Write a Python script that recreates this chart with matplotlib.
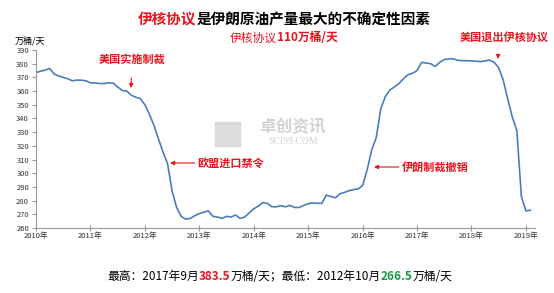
import matplotlib
matplotlib.use("Agg")
import matplotlib.pyplot as plt
import numpy as np
from matplotlib.offsetbox import TextArea, HPacker, AnnotationBbox

plt.rcParams['font.family'] = ['Noto Sans CJK SC', 'DejaVu Sans']

# monthly output, Jan 2010 .. Feb 2019 (万桶/天)
production = [
    373.5, 374.5, 375.3, 376.5, 372.5, 371.0, 370.0, 369.0, 367.5, 368.0, 368.0, 367.5,  # 2010
    366.0, 366.0, 365.5, 365.5, 366.0, 365.8, 363.0, 360.5, 360.0, 357.0, 355.5, 354.5,  # 2011
    350.0, 343.0, 335.0, 325.0, 315.5, 307.0, 287.0, 275.0, 268.5, 266.5, 267.0, 269.0,  # 2012
    270.5, 271.5, 272.5, 268.5, 268.0, 267.0, 268.5, 268.0, 269.5, 267.0, 268.0, 271.0,  # 2013
    274.0, 276.0, 278.5, 278.0, 275.5, 275.5, 276.3, 275.5, 276.5, 275.0, 275.0, 276.5,  # 2014
    277.8, 278.3, 278.0, 278.0, 284.0, 283.0, 282.0, 285.0, 286.0, 287.3, 288.0, 288.5,  # 2015
    291.0, 302.5, 317.0, 326.0, 347.0, 356.0, 360.8, 363.0, 365.5, 369.0, 372.0, 373.0,  # 2016
    375.0, 381.0, 380.5, 380.0, 378.0, 381.0, 383.0, 383.5, 383.5, 382.5, 382.2, 382.2,  # 2017
    382.0, 381.8, 381.5, 382.0, 382.7, 381.0, 377.0, 368.0, 354.0, 341.0, 331.0, 283.0,  # 2018
    272.5, 273.0,                                                                        # 2019
]
years = [2010, 2011, 2012, 2013, 2014, 2015, 2016, 2017, 2018, 2019]
year_labels = [f"{y}年" for y in years]
y_ticks = list(range(260, 391, 10))

fig = plt.figure(figsize=(5.54, 2.93), dpi=100)
ax = fig.add_axes([36 / 554, 65 / 293, 499 / 554, 178 / 293])

months = np.arange(len(production))
ax.plot(months, production, color='#4a7ebb', lw=1.2)

ax.set_xlim(0, 110)
ax.set_ylim(260, 390)
ax.set_xticks([(y - 2010) * 12 for y in years])
ax.set_xticklabels(year_labels, fontsize=5.5, color='#333333')
ax.set_yticks(y_ticks)
ax.set_yticklabels([str(v) for v in y_ticks], fontsize=5.5, color='#333333')
for s in ['top', 'right']:
    ax.spines[s].set_visible(False)
for s in ['left', 'bottom']:
    ax.spines[s].set_color('#999999')
    ax.spines[s].set_linewidth(0.8)
ax.tick_params(axis='x', direction='inout', length=4, color='#999999', width=0.8, pad=1)
ax.tick_params(axis='y', direction='out', length=3, color='#999999', width=0.8, pad=2)

red = '#e8141e'


def colored_line(parts, x, y, size, weight='normal'):
    boxes = [TextArea(t, textprops=dict(color=c, fontsize=size,
                                        fontweight=w if w else weight))
             for t, c, w in parts]
    pack = HPacker(children=boxes, align='baseline', pad=0, sep=0)
    ab = AnnotationBbox(pack, (x / 554, 1 - y / 293), xycoords='figure fraction',
                        frameon=False, box_alignment=(0.5, 0.5))
    fig.add_artist(ab)


colored_line([("伊核协议", red, None), ("是伊朗原油产量最大的不确定性因素", 'black', None)],
             284, 19, 10.5, 'bold')
colored_line([("伊核协议", red, 'normal'), ("110万桶/天", red, 'bold')], 284, 38, 8.5)
colored_line([("最高：2017年9月", 'black', None), ("383.5", red, 'bold'),
              ("万桶/天；最低：2012年10月", 'black', None), ("266.5", '#1a9a4a', 'bold'),
              ("万桶/天", 'black', None)], 280, 276, 8.5)

fig.text(30 / 554, 1 - 41 / 293, "万桶/天", fontsize=6.5, ha='center', va='center')

# watermark
fig.text(292 / 554, 1 - 127 / 293, "卓创资讯", fontsize=12, color='#c8c8c8',
         ha='center', va='center', fontweight='bold', alpha=0.8)
fig.text(293 / 554, 1 - 142 / 293, "SCI99.COM", fontsize=7, color='#c8c8c8',
         ha='center', va='center', family='Liberation Serif', alpha=0.8)
fig.patches.append(plt.Rectangle((215 / 554, 1 - 146 / 293), 25 / 554, 24 / 293,
                                 transform=fig.transFigure, color='#d4d4d4', alpha=0.8))

# annotations
def fig_xy(x, y):
    return (x / 554, 1 - y / 293)


ann = dict(color=red, fontsize=8, fontweight='bold', xycoords='figure fraction',
           textcoords='figure fraction', va='center', ha='center')
arrow = dict(arrowstyle='-|>', color=red, lw=0.8, mutation_scale=6)

ax.annotate("美国实施制裁", xy=fig_xy(131, 88), xytext=fig_xy(132, 59),
            arrowprops=dict(arrow, shrinkA=7, shrinkB=0), **ann)
ax.annotate("欧盟进口禁令", xy=fig_xy(170, 163), xytext=fig_xy(231, 163),
            arrowprops=dict(arrow, shrinkA=36, shrinkB=0), **ann)
ax.annotate("伊朗制裁撤销", xy=fig_xy(374, 167), xytext=fig_xy(435, 167),
            arrowprops=dict(arrow, shrinkA=36, shrinkB=0), **ann)
ax.annotate("美国退出伊核协议", xy=fig_xy(498, 59), xytext=fig_xy(504, 37),
            arrowprops=dict(arrow, shrinkA=6, shrinkB=0, relpos=(0.44, 0)), **ann)

fig.savefig("out.png", dpi=100, facecolor='white')
